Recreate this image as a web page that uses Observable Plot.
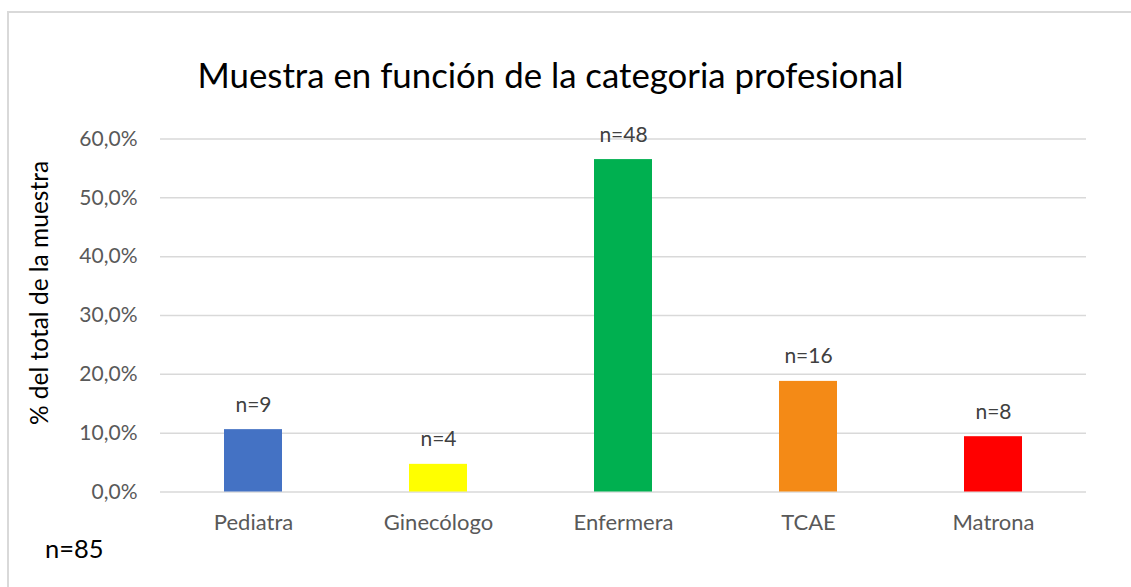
<!DOCTYPE html>
<html>
<head>
<meta charset="utf-8">
<script src="https://cdn.jsdelivr.net/npm/d3@7"></script>
<script src="https://cdn.jsdelivr.net/npm/@observablehq/plot@0.6"></script>
<style>
  html, body { margin: 0; padding: 0; background: #fff; overflow: hidden; }
  #wrap { position: relative; width: 1131px; height: 587px; font-family: Lato, sans-serif; }
  #frame { position: absolute; left: 7px; top: 11px; width: 1140px; height: 600px; border: 2px solid #d9d9d9; box-sizing: border-box; }
  #title { position: absolute; left: 0; width: 1101px; text-align: center; top: 58px; font-size: 34.8px; line-height: 1; color: #000; white-space: nowrap; }
  #ylab { position: absolute; left: 39px; top: 293px; transform: translate(-50%, -50%) rotate(-90deg); font-size: 24.5px; line-height: 1; color: #000; white-space: nowrap; }
  #note { position: absolute; left: 45px; top: 536px; font-size: 25.5px; line-height: 1; color: #000; }
  #chart { position: absolute; left: 0; top: 0; }
</style>
</head>
<body>
<div id="wrap">
  <div id="frame"></div>
  <div id="chart"></div>
  <div id="title">Muestra en función de la categoria profesional</div>
  <div id="ylab">% del total de la muestra</div>
  <div id="note">n=85</div>
</div>
<script>
const categories = ["Pediatra", "Ginecólogo", "Enfermera", "TCAE", "Matrona"];
const percents = [10.6, 4.7, 56.5, 18.8, 9.4];
const labels = ["n=9", "n=4", "n=48", "n=16", "n=8"];
const colors = ["#4472C4", "#FFFF00", "#00B050", "#F48A16", "#FF0000"];
const yTicks = [0, 10, 20, 30, 40, 50, 60];

const data = categories.map((c, i) => ({cat: c, pct: percents[i], label: labels[i], color: colors[i]}));
const fmt = d => d.toFixed(1).replace(".", ",") + "%";

const chart = Plot.plot({
  width: 1131,
  height: 587,
  marginLeft: 160,
  marginRight: 45,
  marginTop: 138.5,
  marginBottom: 95.5,
  style: {fontFamily: "Lato, sans-serif", background: "transparent", overflow: "visible"},
  x: {domain: categories, paddingInner: 0.687, paddingOuter: 0.3435},
  y: {domain: [0, 60]},
  marks: [
    Plot.gridY(yTicks, {stroke: "#d9d9d9", strokeOpacity: 1, strokeWidth: 1.5}),
    Plot.barY(data, {x: "cat", y: "pct", fill: "color"}),
    Plot.text(data, {x: "cat", y: "pct", text: "label", fontSize: 21, fill: "#404040", lineAnchor: "bottom", dy: -18}),
    Plot.axisY({ticks: yTicks, tickFormat: fmt, tickSize: 0, tickPadding: 23, fontSize: 21, color: "#595959", label: null}),
    Plot.axisX({tickSize: 0, tickPadding: 22, fontSize: 22, color: "#595959", label: null})
  ]
});
document.getElementById("chart").appendChild(chart);
</script>
</body>
</html>
